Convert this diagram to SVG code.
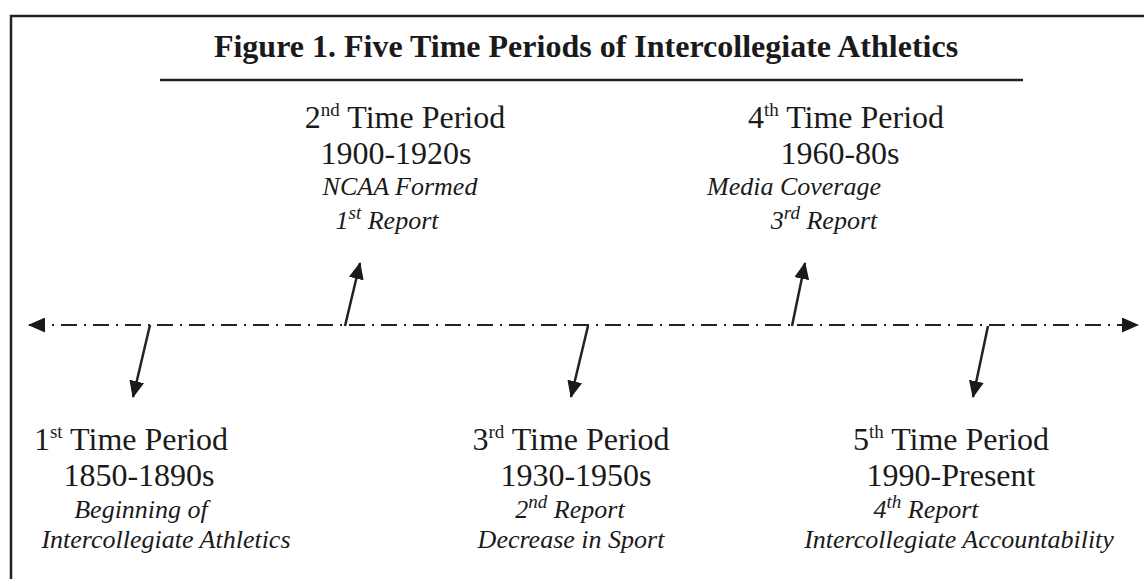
<svg xmlns="http://www.w3.org/2000/svg" width="1144" height="579" viewBox="0 0 1144 579">
  <defs>
    <style>
      text { font-family: "Liberation Serif", "Times New Roman", serif; fill: #1a1a1a; text-anchor: middle; }
      .title { font-size: 32px; font-weight: bold; }
      .head { font-size: 32px; }
      .note { font-size: 26px; font-style: italic; }
      .sup { font-size: 19px; }
      .frame { stroke: #222; stroke-width: 2.5; fill: none; }
      .axis { stroke: #222; stroke-width: 2.2; fill: none; stroke-dasharray: 16 7 2 7; }
      .pointer { stroke: #222; stroke-width: 2.5; fill: none; }
    </style>
    <marker id="head" viewBox="0 0 17 15" refX="16" refY="7.5" markerWidth="17" markerHeight="15" markerUnits="userSpaceOnUse" orient="auto-start-reverse">
      <path d="M0,0 L17,7.5 L0,15 Z" fill="#1a1a1a"/>
    </marker>
  </defs>

  <!-- frame and title -->
  <g id="frame">
    <path class="frame" d="M11,579 L11,16 L1144,16"/>
    <text class="title" x="586" y="57">Figure 1. Five Time Periods of Intercollegiate Athletics</text>
    <line x1="160" y1="80" x2="1023" y2="80" stroke="#222" stroke-width="2.5"/>
  </g>

  <!-- timeline and pointers -->
  <g id="connectors">
    <line class="axis" x1="29" y1="325" x2="1138" y2="325" marker-start="url(#head)" marker-end="url(#head)"/>
    <line class="pointer" x1="150" y1="325" x2="133" y2="397" marker-end="url(#head)"/>
    <line class="pointer" x1="345" y1="326" x2="360" y2="263" marker-end="url(#head)"/>
    <line class="pointer" x1="588" y1="326" x2="571" y2="397" marker-end="url(#head)"/>
    <line class="pointer" x1="792" y1="326" x2="805" y2="263" marker-end="url(#head)"/>
    <line class="pointer" x1="988" y1="326" x2="973" y2="397" marker-end="url(#head)"/>
  </g>

  <g id="period1">
    <text class="head" x="131" y="450">1<tspan class="sup" dy="-12">st</tspan><tspan dy="12"> Time Period</tspan></text>
    <text class="head" x="139" y="486">1850-1890s</text>
    <text class="note" x="141" y="518">Beginning of</text>
    <text class="note" x="166" y="548">Intercollegiate Athletics</text>
  </g>

  <g id="period2">
    <text class="head" x="405" y="128">2<tspan class="sup" dy="-12">nd</tspan><tspan dy="12"> Time Period</tspan></text>
    <text class="head" x="396" y="164">1900-1920s</text>
    <text class="note" x="400" y="195">NCAA Formed</text>
    <text class="note" x="387" y="229">1<tspan class="sup" dy="-10">st</tspan><tspan dy="10"> Report</tspan></text>
  </g>

  <g id="period3">
    <text class="head" x="571" y="450">3<tspan class="sup" dy="-12">rd</tspan><tspan dy="12"> Time Period</tspan></text>
    <text class="head" x="576" y="486">1930-1950s</text>
    <text class="note" x="570" y="518">2<tspan class="sup" dy="-10">nd</tspan><tspan dy="10"> Report</tspan></text>
    <text class="note" x="571" y="548">Decrease in Sport</text>
  </g>

  <g id="period4">
    <text class="head" x="846" y="128">4<tspan class="sup" dy="-12">th</tspan><tspan dy="12"> Time Period</tspan></text>
    <text class="head" x="840" y="164">1960-80s</text>
    <text class="note" x="794" y="195">Media Coverage</text>
    <text class="note" x="824" y="229">3<tspan class="sup" dy="-10">rd</tspan><tspan dy="10"> Report</tspan></text>
  </g>

  <g id="period5">
    <text class="head" x="951" y="450">5<tspan class="sup" dy="-12">th</tspan><tspan dy="12"> Time Period</tspan></text>
    <text class="head" x="951" y="486">1990-Present</text>
    <text class="note" x="926" y="518">4<tspan class="sup" dy="-10">th</tspan><tspan dy="10"> Report</tspan></text>
    <text class="note" x="959" y="548">Intercollegiate Accountability</text>
  </g>
</svg>
